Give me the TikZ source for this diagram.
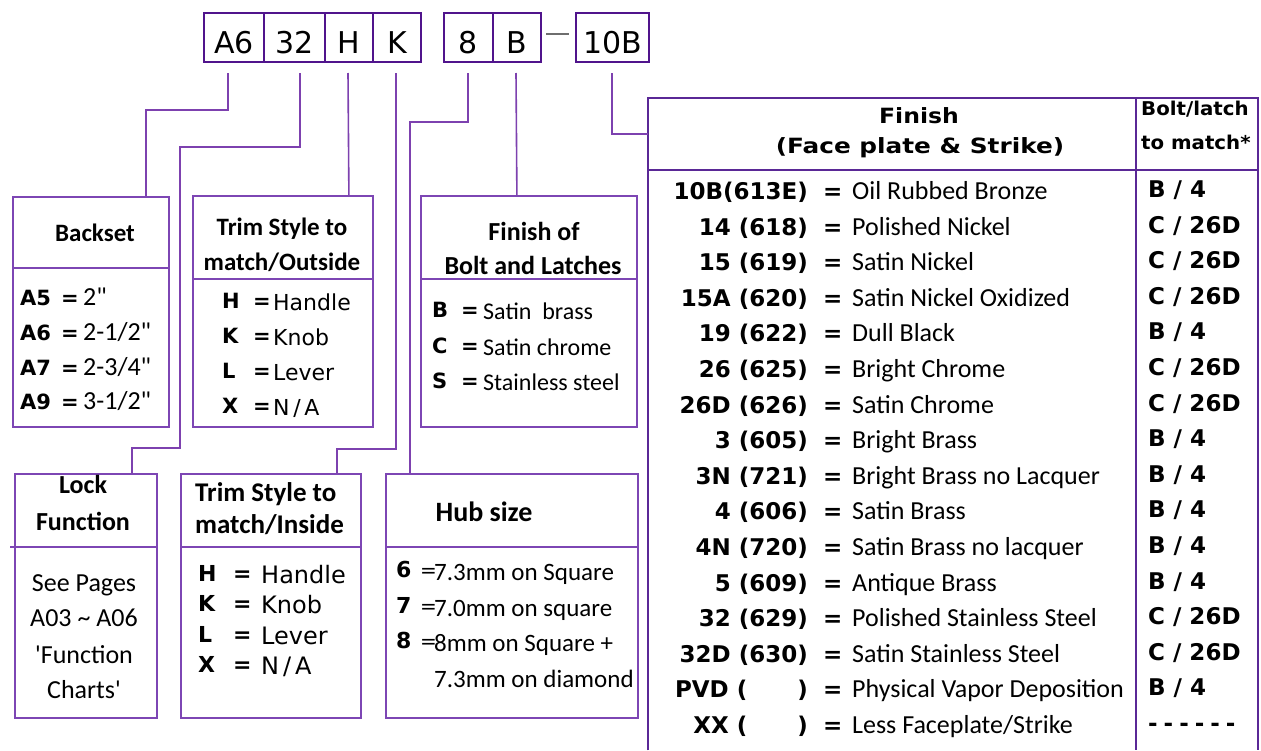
\documentclass[tikz,border=0pt]{standalone}
\usepackage{fontspec}
\usepackage{graphicx}
\setmainfont{Carlito}
\newfontfamily\dvfam{DejaVu Sans}
\definecolor{codefr}{RGB}{80,20,140}
\definecolor{connc}{RGB}{125,65,175}
\definecolor{boxfr}{RGB}{125,70,180}
\definecolor{tblfr}{RGB}{90,40,150}
\definecolor{dashc}{RGB}{110,110,110}
\newcommand\fdvb[2]{\dvfam\bfseries\fontsize{#1pt}{#2pt}\selectfont}
\newcommand\fdvr[2]{\dvfam\fontsize{#1pt}{#2pt}\selectfont}
\newcommand\fcar[2]{\fontsize{#1pt}{#2pt}\selectfont}
\newcommand\fcarb[2]{\bfseries\fontsize{#1pt}{#2pt}\selectfont}
\newcommand\inch{\textquotedbl}
\begin{document}
\begin{tikzpicture}[x=1pt,y=-1pt,
  codebox/.style={draw=codefr, line width=2.2pt, minimum height=49pt, inner sep=0pt,
    text height=32pt, text depth=0pt, font=\fdvr{30}{30}},
  infobox/.style={draw=boxfr, line width=1.8pt, anchor=north west, inner sep=0pt},
  conn/.style={draw=connc, line width=1.6pt},
  divider/.style={draw=boxfr, line width=1.5pt},
  tline/.style={draw=tblfr, line width=2pt},
  bw/.style={anchor=base west, inner sep=0pt},
  be/.style={anchor=base east, inner sep=0pt},
  bc/.style={anchor=base, inner sep=0pt}]
\useasboundingbox (0,0) rectangle (1261,750);

% ---- part number boxes
\node[codebox, minimum width=60pt] (bA6) at (234,37.5) {A6};
\node[codebox, minimum width=61pt] (b32) at (294.5,37.5) {32};
\node[codebox, minimum width=48pt] (bH) at (349,37.5) {H};
\node[codebox, minimum width=48pt] (bK) at (397,37.5) {K};
\node[codebox, minimum width=49pt] (b8) at (468.5,37.5) {8};
\node[codebox, minimum width=48pt] (bB) at (517,37.5) {B};
\node[codebox, minimum width=73pt] (b10B) at (612.5,37.5) {10B};
\coordinate (dA) at (546,34);
\coordinate (dB) at (569,34);
\draw[draw=dashc, line width=1.4pt] (dA) -- (dB);

% ---- boxes
\node[infobox, minimum width=156pt, minimum height=230pt] (backset) at (12,196) {};
\node[infobox, minimum width=180pt, minimum height=231pt] (trimout) at (192,195) {};
\node[infobox, minimum width=216pt, minimum height=231pt] (finbolt) at (420,195) {};
\node[infobox, minimum width=142pt, minimum height=244pt] (lock) at (14,473) {};
\node[infobox, minimum width=180pt, minimum height=244pt] (trimin) at (180,473) {};
\node[infobox, minimum width=252pt, minimum height=244pt] (hub) at (385,473) {};
\node[anchor=north west, inner sep=0pt, minimum width=610pt, minimum height=652pt] (tbl) at (648,98) {};

\draw[divider] (12,268) -- (168,268);
\draw[divider] (192,279) -- (372,279);
\draw[divider] (420,279) -- (636,279);
\draw[divider] (10,547) -- (156,547);
\draw[divider] (180,547) -- (360,547);
\draw[divider] (385,547) -- (637,547);

\draw[tline] (tbl.south west) -- (tbl.north west) -- (tbl.north east) -- (tbl.south east);
\draw[tline] (648,170) -- (1258,170);
\draw[tline] (1136,98) -- (1136,750);

% ---- connectors
\coordinate (sA6) at (228,73);
\coordinate (s32) at (300,73);
\coordinate (sH) at (348,73);
\coordinate (sK) at (396,73);
\coordinate (s8) at (468,73);
\coordinate (sB) at (516,73);
\coordinate (s10) at (612,73);
\draw[conn] (sA6) -- (228,110) -| ([xshift=55pt]backset.north);
\draw[conn] (s32) -- (300,147) -- (180,147) -- (180,448) -| ([xshift=46pt]lock.north);
\draw[conn] (sH) -- ([xshift=66pt]trimout.north);
\draw[conn] (sK) -- (396,449) -| ([xshift=66pt]trimin.north);
\draw[conn] (s8) -- (468,122) -| ([xshift=-102pt]hub.north);
\draw[conn] (sB) -- ([xshift=-12pt]finbolt.north);
\draw[conn] (s10) |- ([yshift=-36pt]tbl.north west);

% ---- Backset
\node[bc, font=\fcarb{25}{25}] (bsT) at (95,241) {Backset};
\foreach \c/\v [count=\i from 0] in {A5/{2\inch}, A6/{2-1/2\inch}, A7/{2-3/4\inch}, A9/{3-1/2\inch}}{
  \pgfmathsetmacro\yy{305.5+34.8*\i}
  \node[bw, font=\fdvb{21}{21}] (bsc\i) at (20,\yy) {\c};
  \node[bw, font=\fdvb{21}{21}] (bse\i) at (61,\yy) {=};
  \node[bw, font=\fcar{26}{26}] (bsv\i) at (83,\yy) {\v};
}

% ---- Trim style outside
\node[bc, font=\fcarb{25}{25}] (toT1) at (282,235) {Trim Style to};
\node[bc, font=\fcarb{25}{25}] (toT2) at (282,270) {match/Outside};
\foreach \c/\v [count=\i from 0] in {H/{Handle}, K/{Knob}, L/{Lever}, X/{N\,/\,A}}{
  \pgfmathsetmacro\yy{310+35*\i}
  \node[bw, font=\fdvb{21}{21}] (toc\i) at (222,\yy-2) {\c};
  \node[bw, font=\fdvb{21}{21}] (toe\i) at (253,\yy-2) {=};
  \node[bw, font=\fdvr{22}{22}] (tov\i) at (273,\yy) {\v};
}

% ---- Finish of bolt
\node[bc, font=\fcarb{26}{26}] (fbT1) at (534,240) {Finish of};
\node[bc, font=\fcarb{26}{26}] (fbT2) at (533,274) {Bolt and Latches};
\foreach \c/\v [count=\i from 0] in {B/{Satin\ \ brass}, C/{Satin chrome}, S/{Stainless steel}}{
  \pgfmathsetmacro\yy{319.5+35.5*\i}
  \node[bw, font=\fdvb{21}{21}] (fbc\i) at (432,\yy-2) {\c};
  \node[bw, font=\fdvb{21}{21}] (fbe\i) at (461,\yy-2) {=};
  \node[bw, font=\fcar{24}{24}] (fbv\i) at (483,\yy) {\v};
}

% ---- Lock function
\node[bc, font=\fcarb{26}{26}] (lfT1) at (83,493) {Lock};
\node[bc, font=\fcarb{26}{26}] (lfT2) at (83,530) {Function};
\node[bc, font=\fcar{26}{26}] (lf1) at (84,591.5) {See Pages};
\node[bc, font=\fcar{26}{26}] (lf2) at (84,626.5) {A03 \textasciitilde{} A06};
\node[bc, font=\fcar{26}{26}] (lf3) at (84,663.5) {\textquotesingle Function};
\node[bc, font=\fcar{26}{26}] (lf4) at (84,698.5) {Charts\textquotesingle};

% ---- Trim style inside
\node[bw, font=\fcarb{27}{27}] (tiT1) at (195,501) {Trim Style to};
\node[bw, font=\fcarb{27}{27}] (tiT2) at (195,533) {match/Inside};
\foreach \c/\v [count=\i from 0] in {H/{Handle}, K/{Knob}, L/{Lever}, X/{N\,/\,A}}{
  \pgfmathsetmacro\yy{583+30.5*\i}
  \node[bw, font=\fdvb{22}{22}] (tic\i) at (198,\yy-2) {\c};
  \node[bw, font=\fdvb{22}{22}] (tie\i) at (233,\yy-2) {=};
  \node[bw, font=\fdvr{24}{24}] (tiv\i) at (261,\yy) {\v};
}

% ---- Hub size
\node[bc, font=\fcarb{28}{28}] (hbT) at (484,521) {Hub size};
\foreach \c/\v [count=\i from 0] in {6/{7.3mm on Square}, 7/{7.0mm on square}, 8/{8mm on Square +}}{
  \pgfmathsetmacro\yy{580.5+35.5*\i}
  \node[bw, font=\fdvb{22}{22}] (hbc\i) at (396,\yy-3) {\c};
  \node[bw, font=\fdvr{20}{20}] (hbe\i) at (420,\yy-3) {=};
  \node[bw, font=\fcar{25}{25}] (hbv\i) at (434,\yy) {\v};
}
\node[bw, font=\fcar{25}{25}] (hbv3) at (434,687.5) {7.3mm on diamond};

% ---- Finish table
\node[bc, font=\fdvb{21}{21}] (ftT1) at (919,123) {\scalebox{1.12}[1]{Finish}};
\node[bc, font=\fdvb{21}{21}] (ftT2) at (920,153) {\scalebox{1.18}[1]{(Face plate \& Strike)}};
\node[bw, font=\fdvb{19}{19}] (blT1) at (1141,115) {\scalebox{1.04}[1]{Bolt/latch}};
\node[bw, font=\fdvb{19}{19}] (blT2) at (1141,149) {\scalebox{1.04}[1]{to match*}};
\foreach \cd/\ds/\bl [count=\i from 0] in {
  {10B(613E)}/{Oil Rubbed Bronze}/{B / 4},
  {14 (618)}/{Polished Nickel}/{C / 26D},
  {15 (619)}/{Satin Nickel}/{C / 26D},
  {15A (620)}/{Satin Nickel Oxidized}/{C / 26D},
  {19 (622)}/{Dull Black}/{B / 4},
  {26 (625)}/{Bright Chrome}/{C / 26D},
  {26D (626)}/{Satin Chrome}/{C / 26D},
  {3 (605)}/{Bright Brass}/{B / 4},
  {3N (721)}/{Bright Brass no Lacquer}/{B / 4},
  {4 (606)}/{Satin Brass}/{B / 4},
  {4N (720)}/{Satin Brass no lacquer}/{B / 4},
  {5 (609)}/{Antique Brass}/{B / 4},
  {32 (629)}/{Polished Stainless Steel}/{C / 26D},
  {32D (630)}/{Satin Stainless Steel}/{C / 26D},
  {PVD (\hspace{50pt})}/{Physical Vapor Deposition}/{B / 4},
  {XX (\hspace{50pt})}/{Less Faceplate/Strike}/{-\hspace{6pt}-\hspace{6pt}-\hspace{6pt}-\hspace{6pt}-\hspace{6pt}-}}{
  \pgfmathsetmacro\yy{199.5+35.6*\i}
  \node[be, font=\fdvb{23}{23}] (cd\i) at (808,\yy) {\cd};
  \node[bw, font=\fdvb{23}{23}] (eq\i) at (823,\yy) {=};
  \node[bw, font=\fcar{26}{26}] (ds\i) at (852,\yy) {\ds};
  \node[bw, font=\fdvb{23}{23}] (bl\i) at (1148,\yy-2) {\bl};
}
\end{tikzpicture}
\end{document}
